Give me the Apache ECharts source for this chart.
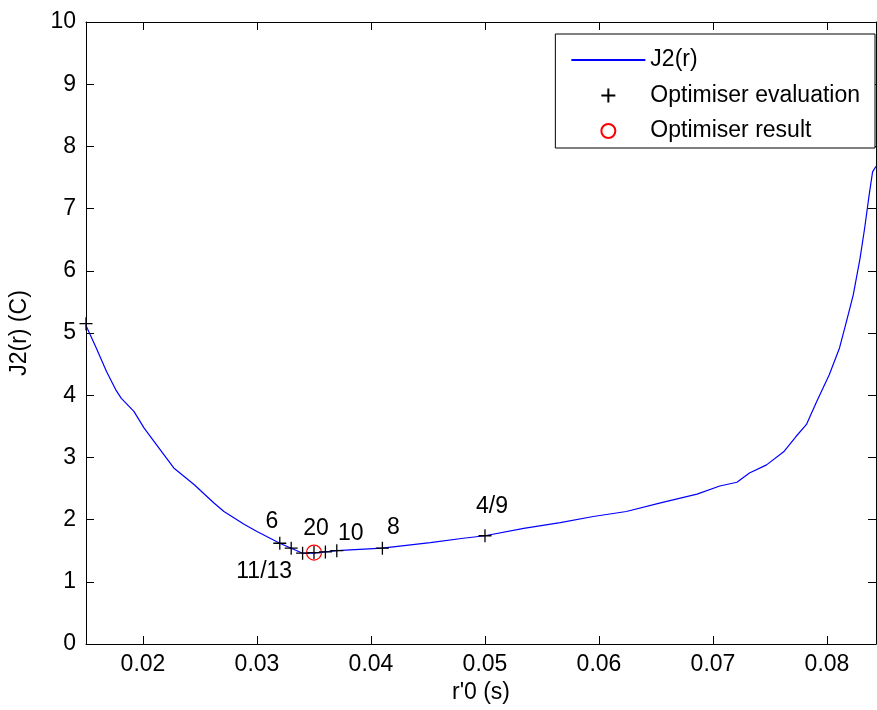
<!DOCTYPE html>
<html>
<head>
<meta charset="utf-8">
<title>J2(r)</title>
<script src="https://cdn.jsdelivr.net/npm/echarts@6/dist/echarts.min.js"></script>
<style>
html, body { margin: 0; padding: 0; background: #fff; }
#main { width: 877px; height: 710px; }
</style>
</head>
<body>
<div id="main"></div>
<script>
// J2(r) curve
var curveX = [0.015, 0.0159, 0.0168, 0.0176, 0.0181, 0.0192, 0.0201, 0.0216, 0.0227, 0.0245,
	0.0262, 0.0271, 0.0289, 0.0300, 0.0320, 0.0330, 0.0340, 0.0350, 0.0360, 0.0370,
	0.0410, 0.0452, 0.0481, 0.0500, 0.0534, 0.0566, 0.0595, 0.0624, 0.0654, 0.0686,
	0.0706, 0.0721, 0.0732, 0.0747, 0.0762, 0.0773, 0.0782, 0.0791, 0.0802, 0.0811,
	0.0817, 0.0823, 0.0829, 0.0833, 0.0837, 0.0840, 0.0843];
var curveY = [5.12, 4.76, 4.38, 4.09, 3.95, 3.74, 3.47, 3.10, 2.83, 2.56,
	2.27, 2.13, 1.92, 1.81, 1.62, 1.54, 1.46, 1.46, 1.48, 1.50,
	1.54, 1.63, 1.70, 1.74, 1.86, 1.95, 2.05, 2.13, 2.27, 2.41,
	2.54, 2.60, 2.75, 2.88, 3.09, 3.34, 3.53, 3.90, 4.33, 4.76,
	5.18, 5.61, 6.20, 6.68, 7.22, 7.59, 7.68];

// optimiser evaluations (+) and their iteration labels
var evalX = [0.015, 0.032, 0.033, 0.034, 0.035, 0.036, 0.037, 0.041, 0.050];
var evalY = [5.15, 1.62, 1.54, 1.46, 1.47, 1.48, 1.50, 1.54, 1.74];
var evalText = ["", "6", "11/13", "", "", "", "10", "8", "4/9"];

// optimiser result (o)
var resultX = [0.035];
var resultY = [1.47];
var resultText = ["20"];

var xTicks = [0.02, 0.03, 0.04, 0.05, 0.06, 0.07, 0.08];
var yTicks = [0, 1, 2, 3, 4, 5, 6, 7, 8, 9, 10];

// label offsets (px) from each marker
var evalOffsets = [[0, 0], [-8, -22], [-27, 23], [0, 0], [0, 0], [0, 0], [14, -17], [11, -21], [7, -29]];
var resultOffsets = [[2, -24]];

var FONT = "'Liberation Sans', Arial, sans-serif";
var PLUS = "path://M0,6H12M6,0V12";

function pairs(xs, ys) {
	var out = [];
	for (var i = 0; i < xs.length; i++) {
		out.push([xs[i], ys[i]]);
	}
	return out;
}

function labelled(xs, ys, texts, offsets) {
	var out = [];
	for (var i = 0; i < xs.length; i++) {
		var item = { value: [xs[i], ys[i]] };
		if (texts[i]) {
			item.label = {
				show: true,
				formatter: texts[i],
				position: "inside",
				offset: offsets[i],
				color: "#000",
				textBorderWidth: 0,
				fontSize: 23,
				fontFamily: FONT
			};
		}
		out.push(item);
	}
	return out;
}

function boxAxis(extra) {
	var axis = {
		type: "value",
		axisLine: { show: true, onZero: false, lineStyle: { color: "#000", width: 1 } },
		axisTick: { show: true, inside: true, length: 8, lineStyle: { color: "#000" } },
		splitLine: { show: false },
		axisLabel: { show: false }
	};
	for (var k in extra) {
		axis[k] = extra[k];
	}
	return axis;
}

var tickLabel = { show: true, color: "#000", fontSize: 23, fontFamily: FONT };

var option = {
	animation: false,
	backgroundColor: "#fff",
	grid: { left: 86, right: 1, top: 22, bottom: 66 },
	xAxis: [
		boxAxis({
			min: 0.015, max: 0.0843, position: "bottom",
			axisTick: { show: true, inside: true, length: 8, customValues: xTicks, lineStyle: { color: "#000" } },
			axisLabel: Object.assign({ margin: 9, customValues: xTicks }, tickLabel),
			name: "r'0 (s)", nameLocation: "middle", nameGap: 36,
			nameTextStyle: { color: "#000", fontSize: 23, fontFamily: FONT }
		}),
		boxAxis({
			min: 0.015, max: 0.0843, position: "top",
			axisTick: { show: true, inside: true, length: 8, customValues: xTicks, lineStyle: { color: "#000" } }
		})
	],
	yAxis: [
		boxAxis({
			min: 0, max: 10, position: "left",
			axisTick: { show: true, inside: true, length: 8, customValues: yTicks, lineStyle: { color: "#000" } },
			axisLabel: Object.assign({ margin: 10, customValues: yTicks }, tickLabel),
			name: "J2(r) (C)", nameLocation: "middle", nameGap: 55,
			nameTextStyle: { color: "#000", fontSize: 23, fontFamily: FONT }
		}),
		boxAxis({
			min: 0, max: 10, position: "right",
			axisTick: { show: true, inside: true, length: 8, customValues: yTicks, lineStyle: { color: "#000" } }
		})
	],
	legend: {
		data: [
			{ name: "J2(r)", itemStyle: { opacity: 0 } },
			"Optimiser evaluation",
			"Optimiser result"
		],
		orient: "vertical",
		right: 2,
		top: 34,
		itemWidth: 74,
		itemHeight: 14,
		itemGap: 9.5,
		padding: [13, 15, 4, 15],
		backgroundColor: "#fff",
		borderColor: "#000",
		borderWidth: 1,
		borderRadius: 0,
		textStyle: { color: "#000", fontSize: 23, fontFamily: FONT, lineHeight: 26 }
	},
	series: [
		{
			name: "J2(r)",
			type: "line",
			data: pairs(curveX, curveY),
			symbol: "none",
			showSymbol: false,
			lineStyle: { color: "#0000ff", width: 1.2 },
			itemStyle: { color: "#0000ff" },
			z: 2
		},
		{
			name: "Optimiser evaluation",
			type: "scatter",
			data: labelled(evalX, evalY, evalText, evalOffsets),
			symbol: PLUS,
			symbolSize: 13,
			itemStyle: { color: "none", borderColor: "#000", borderWidth: 1.3, opacity: 1 },
			z: 4
		},
		{
			name: "Optimiser result",
			type: "scatter",
			data: labelled(resultX, resultY, resultText, resultOffsets),
			symbol: "circle",
			symbolSize: 15,
			itemStyle: { color: "none", borderColor: "#ff0000", borderWidth: 1.2, opacity: 1 },
			z: 3
		}
	]
};

var myChart = echarts.init(document.getElementById("main"));
myChart.setOption(option);
</script>
</body>
</html>
